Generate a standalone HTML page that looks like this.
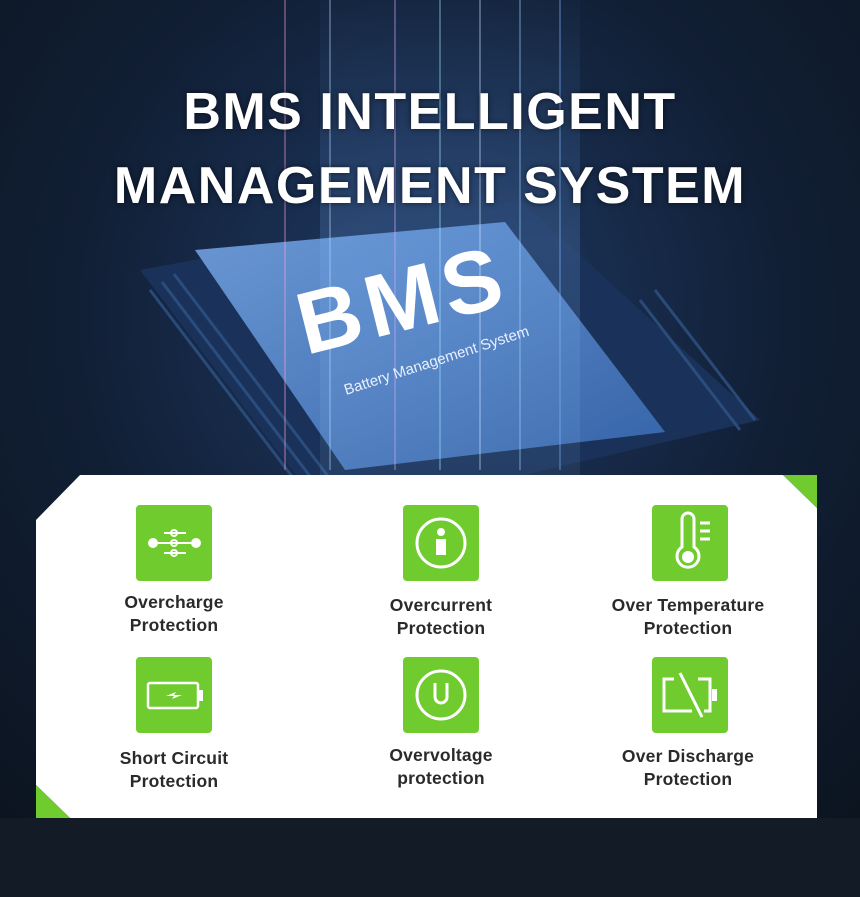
<!DOCTYPE html>
<html><head><meta charset="utf-8"><style>
html,body{margin:0;padding:0}
body{width:860px;height:897px;position:relative;overflow:hidden;background:#0b1626;font-family:"Liberation Sans",sans-serif}
.title{position:absolute;left:0;width:860px;text-align:center;color:#fff;font-weight:bold;font-size:52px;letter-spacing:1.5px;text-shadow:0 0 6px rgba(0,0,0,.6)}
.ic{position:absolute;width:76px;height:76px;background:#6fcb2e;border-radius:4px}
.lb{position:absolute;width:220px;text-align:center;color:#2a2a2a;font-size:17.5px;line-height:23px;font-weight:bold;letter-spacing:0.2px}
</style></head><body>
<svg width="860" height="897" style="position:absolute;left:0;top:0">
<defs>
<radialGradient id="bg" cx="50%" cy="35%" r="75%"><stop offset="0" stop-color="#1f3a66"/><stop offset=".55" stop-color="#111f35"/><stop offset="1" stop-color="#0c1420"/></radialGradient>
<linearGradient id="chip" x1="0" y1="0" x2="1" y2="1"><stop offset="0" stop-color="#6b98d4"/><stop offset="1" stop-color="#3563a8"/></linearGradient>
<linearGradient id="beam" x1="0" y1="0" x2="0" y2="1"><stop offset="0" stop-color="#6aa8ff" stop-opacity=".05"/><stop offset=".5" stop-color="#7fb6ff" stop-opacity=".35"/><stop offset="1" stop-color="#9fd0ff" stop-opacity=".15"/></linearGradient>
</defs>
<rect width="860" height="897" fill="url(#bg)"/>
<rect y="818" width="860" height="79" fill="#131b27"/>
<polygon points="140,270 520,200 760,420 330,520" fill="#1a3259"/>
<g stroke="#2f5487" stroke-width="3" opacity=".8">
<line x1="150" y1="290" x2="310" y2="500"/><line x1="162" y1="282" x2="322" y2="492"/><line x1="174" y1="274" x2="334" y2="484"/>
<line x1="640" y1="300" x2="740" y2="430"/><line x1="655" y1="290" x2="755" y2="420"/>
</g>
<polygon points="195,250 505,222 665,432 345,470" fill="url(#chip)"/>
<rect x="320" y="0" width="260" height="480" fill="url(#beam)" opacity=".5"/>
<g stroke-width="1.5" opacity=".45">
<line x1="330" y1="0" x2="330" y2="470" stroke="#b0d8ff"/>
<line x1="395" y1="0" x2="395" y2="470" stroke="#d6a8ff"/>
<line x1="440" y1="0" x2="440" y2="470" stroke="#9fe6ff"/>
<line x1="480" y1="0" x2="480" y2="470" stroke="#c8e4ff"/>
<line x1="520" y1="0" x2="520" y2="470" stroke="#9fd0ff"/>
<line x1="560" y1="0" x2="560" y2="470" stroke="#7fb6ff"/>
<line x1="285" y1="0" x2="285" y2="470" stroke="#ff9fd8"/>
</g>
<text x="0" y="0" transform="translate(306,355) rotate(-14)" fill="#fff" font-family="Liberation Sans" font-weight="bold" font-size="88" letter-spacing="6">BMS</text>
<text x="0" y="0" transform="translate(346,395) rotate(-18)" fill="#e8f0ff" font-family="Liberation Sans" font-size="15">Battery Management System</text>
<polygon points="80,475 783,475 817,508 817,818 70,818 36,785 36,520" fill="#fff"/>
<polygon points="783,475 817,475 817,508" fill="#6fcb2e"/>
<polygon points="36,785 36,818 70,818" fill="#6fcb2e"/>
</svg>
<div class="title" style="top:82px">BMS INTELLIGENT</div>
<div class="title" style="top:156px">MANAGEMENT SYSTEM</div>

<div class="ic" style="left:136px;top:505px"><svg width="76" height="76"><g stroke="#fff" stroke-width="2" fill="none"><line x1="22" y1="38" x2="56" y2="38"/><line x1="28" y1="28" x2="50" y2="28"/><line x1="28" y1="48" x2="50" y2="48"/><circle cx="38" cy="28" r="3"/><circle cx="38" cy="38" r="3"/><circle cx="38" cy="48" r="3"/></g><circle cx="17" cy="38" r="5" fill="#fff"/><circle cx="60" cy="38" r="5" fill="#fff"/></svg></div>
<div class="ic" style="left:403px;top:505px"><svg width="76" height="76"><circle cx="38" cy="38" r="24" stroke="#fff" stroke-width="3" fill="none"/><circle cx="38" cy="27" r="4" fill="#fff"/><rect x="33" y="34" width="10" height="16" fill="#fff"/></svg></div>
<div class="ic" style="left:652px;top:505px"><svg width="76" height="76"><path d="M30 14 a6 6 0 0 1 12 0 v28 a11 11 0 1 1 -12 0z" stroke="#fff" stroke-width="3" fill="none"/><circle cx="36" cy="52" r="6" fill="#fff"/><g stroke="#fff" stroke-width="3"><line x1="48" y1="18" x2="58" y2="18"/><line x1="48" y1="26" x2="58" y2="26"/><line x1="48" y1="34" x2="58" y2="34"/></g></svg></div>
<div class="ic" style="left:136px;top:657px"><svg width="76" height="76"><rect x="12" y="26" width="50" height="25" rx="2" stroke="#fff" stroke-width="2.5" fill="none"/><rect x="63" y="33" width="4" height="11" fill="#fff"/><path d="M30 39 l10 -4 l-2 3 l8 0 l-10 4 l2 -3z" fill="#fff"/></svg></div>
<div class="ic" style="left:403px;top:657px"><svg width="76" height="76"><circle cx="38" cy="38" r="24" stroke="#fff" stroke-width="3" fill="none"/><path d="M32 26 v14 a6 6 0 0 0 12 0 v-14" stroke="#fff" stroke-width="3" fill="none"/></svg></div>
<div class="ic" style="left:652px;top:657px"><svg width="76" height="76"><path d="M22 22 h-10 v32 h28 M46 22 h12 v32 h-6" stroke="#fff" stroke-width="3" fill="none"/><rect x="60" y="32" width="5" height="12" fill="#fff"/><line x1="28" y1="16" x2="50" y2="60" stroke="#fff" stroke-width="3"/></svg></div>

<div class="lb" style="left:64px;top:591px">Overcharge<br>Protection</div>
<div class="lb" style="left:331px;top:594px">Overcurrent<br>Protection</div>
<div class="lb" style="left:578px;top:594px">Over Temperature<br>Protection</div>
<div class="lb" style="left:64px;top:747px">Short Circuit<br>Protection</div>
<div class="lb" style="left:331px;top:744px">Overvoltage<br>protection</div>
<div class="lb" style="left:578px;top:745px">Over Discharge<br>Protection</div>
</body></html>
